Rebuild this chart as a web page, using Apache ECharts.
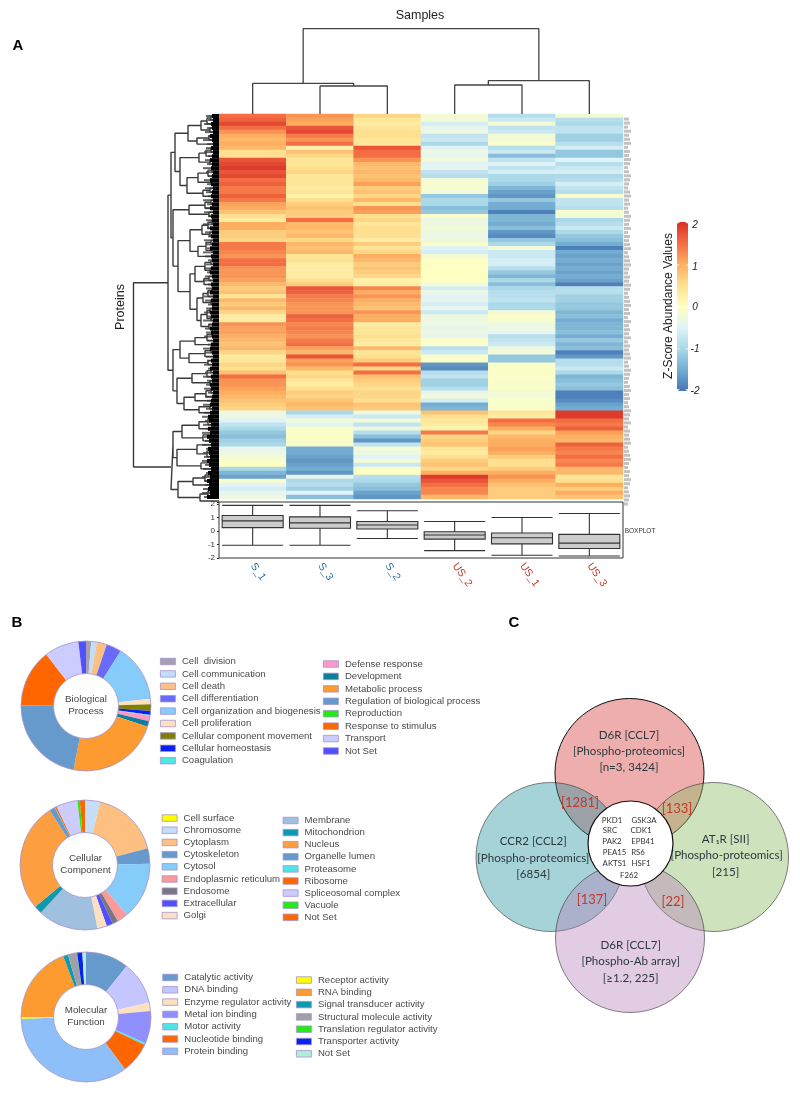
<!DOCTYPE html>
<html><head><meta charset="utf-8">
<style>html,body{margin:0;padding:0;background:#fff}#c{width:800px;height:1093px;filter:blur(0.45px)}</style>
<script src="https://cdn.jsdelivr.net/npm/echarts@6/dist/echarts.min.js"></script>
</head><body><div id="c"></div>
<script>
// ---------- heatmap values, one list per displayed column, top row first ----------
const sampleNames=['S_1','S_3','S_2','US_2','US_1','US_3'];
const s1=[1.5,1.6,1.8,1.5,1.2,1.0,0.9,1.0,0.9,0.5,0.5,1.7,1.8,1.9,1.7,1.8,1.5,1.6,1.4,1.4,1.6,1.4,1.1,1.0,
0.8,0.5,0.3,1.0,1.0,0.7,0.7,0.6,1.4,1.4,1.3,1.2,1.5,1.5,1.2,1.2,1.2,1.1,0.9,0.7,0.8,0.4,0.9,0.7,
0.9,0.6,0.3,0.3,1.2,1.1,1.1,1.0,0.9,0.8,0.9,0.6,0.3,0.4,0.6,0.5,0.8,1.5,1.2,1.2,1.1,1.0,0.9,0.8,
0.7,0.6,-0.3,-0.3,-0.5,-0.8,-1.0,-1.2,-1.3,-1.1,-1.0,-0.4,-0.3,-0.2,-0.1,0,-1.0,-1.4,-1.6,-0.1,-0.5,-0.6,-0.4,-0.3];
const s3=[1.2,1.1,1.0,1.7,1.8,1.4,1.2,1.5,0.2,0.8,0.6,0.4,0.4,0.5,0.6,0.4,0.4,0.4,0.3,0.4,0.2,0.5,0.7,0.8,
0.7,0.7,1.5,0.9,0.9,0.8,0.9,0.6,0.9,0.8,0.9,0.4,0.5,0.3,0.3,0.3,0.3,0.5,0.7,1.7,1.6,1.4,1.3,1.2,
1.2,1.2,1.6,1.5,1.3,1.4,1.3,1.2,1.4,1.5,1.1,0.9,1.7,1.1,1.2,0.9,0.5,0.6,0.4,0.3,0.5,0.7,0.6,0.8,
0.9,0.8,-1.0,-0.6,-0.2,-0.5,-0.1,-0.1,-0.05,-0.1,-0.1,-1.5,-1.5,-1.6,-1.7,-1.6,-1.5,-1.7,-0.4,-1.0,-0.9,-1.1,-0.5,-1.3];
const s2=[0.6,0.4,0.3,0.4,0.5,0.5,0.4,0.4,1.7,1.5,1.5,1.2,0.9,0.8,0.9,0.8,0.9,1.1,0.7,0.8,0.6,0.9,0.5,1.2,
1.1,0.5,0.6,0.4,0.5,0.5,0.5,0.3,0.7,0.4,0.6,1.0,0.9,0.7,0.8,0.7,0.6,0.2,0.3,1.3,1.0,1.2,1.0,0.9,
0.8,1.2,1.0,1.0,0.3,0.4,0.4,0.5,0.4,0.3,0.9,0.4,0.5,0.7,1.5,0.6,1.5,0.8,0.7,0.6,0.5,0.6,0.6,0.5,
0.8,0.7,-0.3,-0.7,-0.2,-0.8,-0.3,-0.9,-1.3,-1.7,-0.8,-0.2,-0.3,-0.5,-0.2,-0.7,-0.1,0,-0.9,-1.0,-1.2,-1.3,-1.6,-1.7];
const us2=[-0.2,-0.2,-0.6,-0.4,-0.3,-0.8,-0.7,-1.0,-0.5,-0.3,-0.4,-0.2,-0.5,-0.4,-0.8,-0.9,-0.2,-0.15,-0.15,-0.2,-1.2,-1.0,-1.0,-1.3,
-1.2,-0.1,-0.3,-0.3,-0.2,-0.3,-0.3,-0.3,-0.1,-0.5,-0.6,-0.2,0,-0.05,0,0,0,0,-0.2,-0.6,-0.3,-0.5,-0.4,-0.6,
-0.4,-0.7,-0.3,-0.3,-0.3,-0.4,-0.3,-0.4,-0.05,-0.1,-0.9,-0.7,-0.1,-0.05,-1.7,-1.8,-0.9,-0.8,-1.1,-1.1,-0.9,-0.4,-0.2,-0.6,
-1.5,-1.4,0.8,0.5,0.4,0.3,0.2,1.4,0.6,0.7,0.8,0.4,0.3,0.5,0.7,0.8,0.6,1.0,1.9,1.7,1.5,1.3,1.3,0.9];
const us1=[-0.9,-0.7,-0.2,-0.8,-0.7,-0.2,-0.2,-0.1,-0.9,-0.7,-1.3,-0.8,-0.5,-0.8,-0.6,-1.0,-1.0,-1.1,-1.4,-1.6,-1.7,-1.2,-1.5,-1.5,
-1.9,-1.4,-1.4,-1.5,-1.3,-1.7,-1.8,-1.2,-1.0,-0.2,-0.7,-0.7,-0.6,-0.6,-0.9,-1.2,-1.4,-1.0,-1.3,-1.0,-0.9,-0.9,-0.8,-1.0,
-1.0,-0.2,-0.1,-0.1,-0.3,-0.3,-0.4,-0.9,-0.8,-0.7,-0.3,-0.2,-1.2,-1.2,-0.1,-0.05,-0.1,-0.05,-0.1,-0.1,-0.1,-0.2,-0.2,-0.1,
-0.1,-0.1,0.4,0.3,1.5,1.3,1.0,0.6,0.9,1.0,1.0,1.1,1.0,0.7,0.5,0.5,0.7,1.0,1.2,1.0,0.8,0.7,0.7,0.7];
const us3=[-0.2,-0.9,-1.0,-0.8,-0.8,-1.1,-1.1,-0.9,-0.6,-1.2,-1.2,-0.5,-0.9,-0.7,-0.6,-1.0,-0.9,-0.6,-0.8,-0.9,-0.1,-0.8,-0.8,-0.9,
-0.1,-0.2,-1.0,-0.9,-0.7,-1.0,-1.2,-1.3,-1.5,-1.9,-1.5,-1.6,-1.5,-1.6,-1.5,-1.6,-1.5,-1.6,-1.9,-0.9,-0.9,-1.1,-1.1,-1.2,
-1.2,-1.4,-1.3,-1.5,-1.4,-1.4,-1.3,-1.5,-1.2,-1.4,-1.3,-1.9,-1.7,-0.9,-0.9,-0.7,-1.0,-1.4,-1.3,-1.2,-1.3,-1.9,-1.9,-1.8,
-1.6,-1.5,1.9,1.9,1.5,1.4,1.6,1.1,1.0,0.9,1.6,1.4,1.3,1.5,1.3,1.4,0.9,0.9,0.4,0.5,1.0,0.7,1.0,0.8];
const heatColumns=[s1,s3,s2,us2,us1,us3];
const heatColors=['#4575b4','#74add1','#abd9e9','#e0f3f8','#ffffbf','#fee090','#fdae61','#f46d43','#d73027'];

// ---------- boxplot: min, Q1, median, Q3, max ----------
const boxS1=[-1.05,0.25,0.75,1.15,1.9];
const boxS3=[-1.05,0.2,0.6,1.05,1.9];
const boxS2=[-0.55,0.15,0.45,0.7,1.5];
const boxUS2=[-1.45,-0.6,-0.3,-0.05,0.7];
const boxUS1=[-1.8,-0.95,-0.5,-0.15,1.0];
const boxUS3=[-1.85,-1.3,-0.9,-0.25,1.3];

// ---------- dendrograms: [height, child, child]; 0 is a leaf, leaves run in display order ----------
const sampleTree=[85.3,[30.7,0,[28,0,0]],[33.3,[29,0,0],0]];
const rowTree=[85.5,
 [51,
  [48,
   [44,[31,[18,[12,[8,0,0],0],[9,0,0]],[22,[10,0,0],0]],
       [39,[20,[13,[8,0,0],0],[9,0,0]],[32,[21,[11,[7,0,0],0],[8,0,0]],[16,[9,0,0],0]]]],
   [46,[30,[14,[8,0,0],0],[10,0,0]],
       [41,[29,[17,[11,[7,0,0],0],[9,0,0]],[21,[13,[8,0,0],[7,0,0]],0]],
           [29,[24,[14,[8,0,0],[9,0,0]],[15,[10,0,0],0]],[22,[16,[11,[7,0,0],0],[8,0,0]],[18,[12,[9,0,0],[8,0,0]],[10,0,0]]]]]]],
  [46,[39,[24,[12,[7,0,0],0],0],[30,[14,[8,0,0],0],[11,0,0]]],
      [42,[27,[12,[8,0,0],0],[9,0,0]],[35,[24,[13,[8,0,0],0],0],[20,[9,0,0],0]]]]],
 [48,[46,[37,[20,[11,[7,0,0],0],0],[16,[8,0,0],0]],[42,[22,0,[12,[7,0,0],0]],[18,[9,0,0],0]]],
     [41,[26,[14,[8,0,0],0],0],[19,[11,[8,0,0],0],0]]]];
const combDepth=[7,6,8,7,6,9,7,6,8,6,7,9,7,8,6,7,9,8,6,7,8,6,7,9,6,8,7,6,9,7,8,6,7,9,6,8,7,6,8,9,7,6,8,7,9,6,8,7,
7,9,8,6,7,9,8,7,6,8,9,7,6,8,7,9,6,8,7,9,8,6,7,8,9,7,9,11,10,8,11,9,12,10,8,11,10,9,12,10,8,11,9,12,10,11,9,12];
const combShade=[13,11,15,12,14,11,16,12,13,15,11,14,12,16,13,11,15,12,14,13,11,16,12,14,15,11,13,16,12,14,11,15,13,12,16,14,11,13,15,12,14,16,11,13,12,15,14,11,
13,15,12,16,11,14,13,15,12,11,16,14,13,12,15,11,14,16,12,13,15,11,14,12,16,13,15,17,14,16,13,17,15,14,17,13,16,15,17,14,16,13,17,15,14,16,17,15];
const rowLabelWidth=[5,6,4,7,5,6,7,4,6,5,7,6,4,5,7,6,5,4,6,7,5,6,4,5,7,6,5,7,4,6,5,6,7,4,5,6,7,5,4,6,5,7,6,4,5,6,7,5,
6,4,7,5,6,5,7,4,6,5,6,7,4,5,7,6,5,4,6,7,5,6,4,5,7,6,5,7,4,6,5,6,7,4,5,6,7,5,4,6,5,7,6,4,5,6,5,4];

// ---------- pie charts ----------
const bpNames=['Cell  division','Cell communication','Cell death','Cell differentiation','Cell organization and biogenesis','Cell proliferation','Cellular component movement','Cellular homeostasis','Coagulation','Defense response','Development','Metabolic process','Regulation of biological process','Reproduction','Response to stimulus','Transport','Not Set'];
const bpValues=[1.3,1.4,2.5,3.8,14.3,1.4,1.6,1,0.2,1.4,1.4,23,22,0.1,14.5,8.6,1.9];
const bpColors=['#a6a0ae','#c5def8','#fcc084','#6a6af8','#86ccfb','#fde0c0','#808000','#0a22f0','#50e5e5','#fc99c8','#0e7f99','#fd9a30','#6699cc','#1fee10','#ff6600','#ccccff','#5050ff'];
const ccNames=['Cell surface','Chromosome','Cytoplasm','Cytoskeleton','Cytosol','Endoplasmic reticulum','Endosome','Extracellular','Golgi','Membrane','Mitochondrion','Nucleus','Organelle lumen','Proteasome','Ribosome','Spliceosomal complex','Vacuole','Not Set'];
const ccValues=[0.1,3.7,17.2,3.9,14.3,2.7,1.4,1.6,2.4,15.1,2,27.2,1.4,0.1,0.4,5.4,0.6,1.3];
const ccColors=['#ffff00','#c5def8','#fdc080','#6699cc','#86ccfb','#fc9a9a','#787880','#5050ff','#fde0c0','#a0c0e0','#0f99b0','#fd9f40','#6699cc','#50e5e5','#ff6600','#ccccff','#1fee10','#ff6600'];
const mfNames=['Catalytic activity','DNA binding','Enzyme regulator activity','Metal ion binding','Motor activity','Nucleotide binding','Protein binding','Receptor activity','RNA binding','Signal transducer activity','Structural molecule activity','Translation regulator activity','Transporter activity','Not Set'];
const mfValues=[10.7,10.7,2.1,8.1,0.5,7.7,34.8,0.4,19.3,1.2,2.2,0.1,1.3,0.9];
const mfColors=['#6699cc','#c5c5ff','#fde0c0','#8f8fff','#50e5e5','#ff6600','#8fbff8','#ffff00','#fd9a30','#0f99b0','#a0a0a8','#1fee10','#0a22f0','#b0eed8'];

// ---------- Venn texts ----------
const vennTexts=['D6R [CCL7]','[Phospho-proteomics]','[n=3, 3424]','CCR2 [CCL2]','[Phospho-proteomics]','[6854]','AT\u2081R [SII]','[Phospho-proteomics]','[215]','D6R [CCL7]','[Phospho-Ab array]','[\u22651.2, 225]'];
const overlapTexts=['[1281]','[133]','[137]','[22]'];
const geneTexts=['PKD1','GSK3A','SRC','CDK1','PAK2','EPB41','PEA15','RS6','AKTS1','HSF1','F262'];

// ---------- layout ----------
const SANS='"Liberation Sans",Arial,sans-serif', VENNF='Lato,"Noto Sans",sans-serif';
const vennTextPos=[[629,735],[629,751.5],[629,767.7],[533.3,841.7],[533.3,858.3],[533.3,874.3],[725.7,839.3],[726.7,855.7],[725.7,872],[630.7,945],[630.7,961.3],[630.7,978]];
const overlapPos=[[580,803],[677,809],[592,900],[673,902]];
const genePos=[[612,820],[644,820],[610,830.5],[641,830.5],[612,841.5],[643,841.5],[614.5,852.5],[638,852.5],[614.5,863.5],[641,863.5],[629,875.5]];
const colorbarTicks=[[678.2,222.7],[687,222.7],[678.2,265],[687,265],[678.2,306.5],[687,306.5],[678.2,349],[687,349],[678.2,389.5],[687,389.5]];
const rows=96, heatW=404;

function link(tree,out,counter,up){ // walks a merge tree through the grid's own scales
  if(tree===0){return [counter.n++ +0.5,0];}
  const a=link(tree[1],out,counter,up), b=link(tree[2],out,counter,up), h=tree[0];
  const pt=up?(p,v)=>[p,v]:(p,v)=>[v,p];
  out.push(pt(a[0],a[1]),pt(a[0],h),pt(b[0],h),pt(b[0],b[1]),[NaN,NaN]);
  return [(a[0]+b[0])/2,h];
}
const sampleLinks=[],rowLinks=[];
link(sampleTree,sampleLinks,{n:0},true);
link(rowTree,rowLinks,{n:0},false);

const rowCats=s1.map((_,i)=>String(i));
const heatData=[];
heatColumns.forEach((col,x)=>col.forEach((v,y)=>heatData.push([x,y,v])));

function pieSeries(center,names,values,colors){
  return {type:'pie',silent:true,center:center,radius:[32.5,65],startAngle:90,clockwise:true,padAngle:0,label:{show:false},labelLine:{show:false},
    itemStyle:{borderWidth:0,borderRadius:0},
    data:names.map((n,i)=>({name:n,value:values[i],itemStyle:{color:colors[i],borderWidth:0}}))};
}
function legendCol(left,top,names,colors,from,to,gap){
  return {show:true,orient:'vertical',left:left,top:top,padding:0,itemWidth:15,itemHeight:6.5,itemGap:gap,selectedMode:false,icon:'rect',
    textStyle:{fontFamily:SANS,fontSize:9.6,color:'#4a4a4a',lineHeight:12,padding:[0,0,0,1.5]},
    data:names.slice(from,to).map((n,i)=>({name:n,icon:'rect',itemStyle:{color:colors[from+i],borderColor:'#a594cc',borderWidth:0.8}}))};
}
function txt(s,x,y,o){
  o=o||{};
  return {type:'text',z:100,x:x,y:y,rotation:o.rot||0,silent:true,style:{text:s,x:0,y:0,align:o.align||'center',verticalAlign:'middle',
    fontFamily:o.font||SANS,fontSize:o.size||10,fontWeight:o.weight||'normal',fontStyle:o.style||'normal',fill:o.color||'#222',lineHeight:o.lh}};
}
const graphicTexts=[
  txt('A',18,46,{size:15,weight:'bold',color:'#000'}),txt('B',17,623,{size:15,weight:'bold',color:'#000'}),txt('C',514,623,{size:15,weight:'bold',color:'#000'}),
  txt('Samples',420,16,{size:12.5}),txt('Proteins',121,307,{size:12.5,rot:Math.PI/2}),
  txt('Z-Score Abundance Values',669,306,{size:12,rot:Math.PI/2}),
  txt('BOXPLOT',640,531,{size:6.5,color:'#333'}),
  txt('Biological\nProcess',86,705,{size:9.8,color:'#444',lh:12}),txt('Cellular\nComponent',85.5,864,{size:9.8,color:'#444',lh:12}),txt('Molecular\nFunction',86,1016,{size:9.8,color:'#444',lh:12})
];
[['2',225],['1',267],['0',307],['-1',349],['-2',391]].forEach(t=>graphicTexts.push(txt(t[0],695,t[1],{size:10,style:'italic',color:'#222'})));
vennTexts.forEach((s,i)=>graphicTexts.push(txt(s,vennTextPos[i][0],vennTextPos[i][1],{font:VENNF,size:11.6,color:'#2c3a3f'})));
overlapTexts.forEach((s,i)=>graphicTexts.push(txt(s,overlapPos[i][0],overlapPos[i][1],{font:VENNF,size:13,color:'#c0392b'})));
geneTexts.forEach((s,i)=>graphicTexts.push(txt(s,genePos[i][0],genePos[i][1],{font:VENNF,size:7.8,color:'#333'})));

const hiddenX=(g,o)=>Object.assign({gridIndex:g,show:false},o);
const chart=echarts.init(document.getElementById('c'),null,{renderer:'canvas'});
chart.setOption({
  animation:false,backgroundColor:'#fff',
  grid:[
    {left:219,top:114,width:heatW,height:385},        // heatmap
    {left:219,top:502,width:heatW,height:56,show:true,borderColor:'#333',borderWidth:1,backgroundColor:'#fff'}, // boxplot
    {left:219,top:20,width:heatW,height:94},          // sample tree
    {left:133,top:114,width:86,height:385},           // row tree
    {left:200,top:114,width:19,height:385},           // leaf comb
    {left:624,top:117,width:7,height:389},            // row-label strip
    {left:0,top:0,width:800,height:1093},             // venn & rings
    {left:200,top:114,width:19,height:385}            // leaf comb shade
  ],
  xAxis:[
    hiddenX(0,{type:'category',data:sampleNames}),
    {gridIndex:1,type:'category',data:sampleNames.map(n=>({value:n,textStyle:{color:n[0]==='U'?'#c0392b':'#2a6ea6'}})),
      axisLine:{show:false},axisTick:{show:false},axisLabel:{rotate:-55,fontFamily:SANS,fontSize:10.5,margin:6,interval:0}},
    hiddenX(2,{type:'value',min:0,max:6}),
    hiddenX(3,{type:'value',min:0,max:86,inverse:true}),
    hiddenX(4,{type:'value',min:0,max:19,inverse:true}),
    hiddenX(5,{type:'value',min:0,max:7}),
    hiddenX(6,{type:'value',min:0,max:800}),
    hiddenX(7,{type:'value',min:0,max:19,inverse:true})
  ],
  yAxis:[
    hiddenX(0,{type:'category',data:rowCats,inverse:true}),
    {gridIndex:1,type:'value',min:-2,max:2.15,interval:1,splitLine:{show:false},axisLine:{show:false},axisTick:{show:true,length:2,lineStyle:{color:'#333'}},
      axisLabel:{fontFamily:SANS,fontSize:8,color:'#333',margin:4,customValues:[-2,-1,0,1,2]}},
    hiddenX(2,{type:'value',min:0,max:94}),
    hiddenX(3,{type:'value',min:0,max:rows,inverse:true}),
    hiddenX(4,{type:'category',data:rowCats,inverse:true}),
    hiddenX(5,{type:'category',data:rowCats,inverse:true}),
    hiddenX(6,{type:'value',min:0,max:1093,inverse:true}),
    hiddenX(7,{type:'category',data:rowCats,inverse:true})
  ],
  visualMap:{type:'continuous',seriesIndex:0,min:-2,max:2,left:677,top:222,itemWidth:11,itemHeight:169,padding:0,text:null,calculable:false,show:true,
    showLabel:false,inRange:{color:heatColors}},
  legend:[
    legendCol(160,655.5,bpNames,bpColors,0,9,0.4),legendCol(323,658,bpNames,bpColors,9,17,0.43),
    legendCol(161.7,812,ccNames,ccColors,0,9,0.2),legendCol(282.7,814.5,ccNames,ccColors,9,18,0.1),
    legendCol(162.3,971.5,mfNames,mfColors,0,7,0.3),legendCol(296,974,mfNames,mfColors,7,14,0.3)
  ],
  series:[
    {type:'heatmap',xAxisIndex:0,yAxisIndex:0,data:heatData,silent:true,itemStyle:{borderWidth:0},progressive:0},
    {type:'boxplot',xAxisIndex:1,yAxisIndex:1,silent:true,boxWidth:[61,61],itemStyle:{color:'#cccccc',borderColor:'#333',borderWidth:1.1},
      data:[boxS1,boxS3,boxS2,boxUS2,boxUS1,boxUS3]},
    {type:'line',xAxisIndex:2,yAxisIndex:2,data:sampleLinks,symbol:'none',silent:true,lineStyle:{color:'#444',width:1.3},clip:false},
    {type:'bar',xAxisIndex:7,yAxisIndex:7,data:combShade,barWidth:2,silent:true,itemStyle:{color:'#666'},z:1},
    {type:'line',xAxisIndex:3,yAxisIndex:3,data:rowLinks,symbol:'none',silent:true,lineStyle:{color:'#3a3a3a',width:1.4},clip:false,z:2},
    {type:'bar',xAxisIndex:4,yAxisIndex:4,data:combDepth,barWidth:'100%',silent:true,itemStyle:{color:'#000'},z:3},
    {type:'bar',xAxisIndex:5,yAxisIndex:5,data:rowLabelWidth,barWidth:3,silent:true,itemStyle:{color:'#c2c2c2'}},
    // venn circles
    {type:'scatter',xAxisIndex:6,yAxisIndex:6,silent:true,symbolSize:149,data:[[629.5,773]],itemStyle:{color:'rgba(220,75,75,0.45)',borderColor:'#111',borderWidth:1,opacity:1},z:3},
    {type:'scatter',xAxisIndex:6,yAxisIndex:6,silent:true,symbolSize:149,data:[[550.5,857]],itemStyle:{color:'rgba(32,145,157,0.4)',borderColor:'rgba(50,50,50,0.6)',borderWidth:1,opacity:1},z:4},
    {type:'scatter',xAxisIndex:6,yAxisIndex:6,silent:true,symbolSize:149,data:[[714,857]],itemStyle:{color:'rgba(135,185,97,0.42)',borderColor:'rgba(50,50,50,0.6)',borderWidth:1,opacity:1},z:5},
    {type:'scatter',xAxisIndex:6,yAxisIndex:6,silent:true,symbolSize:149,data:[[630,938]],itemStyle:{color:'rgba(182,128,185,0.4)',borderColor:'rgba(50,50,50,0.6)',borderWidth:1,opacity:1},z:6},
    {type:'scatter',xAxisIndex:6,yAxisIndex:6,silent:true,symbolSize:85,data:[[630.5,843.5]],itemStyle:{color:'#fff',borderColor:'#111',borderWidth:1.2,opacity:1},z:7},
    // colour-bar ticks
    {type:'scatter',xAxisIndex:6,yAxisIndex:6,silent:true,symbol:'rect',symbolSize:[2.5,1],data:colorbarTicks,itemStyle:{color:'#fff',opacity:0.8},z:9},
    // pies
    pieSeries([86,706],bpNames,bpValues,bpColors),
    pieSeries([85,865],ccNames,ccValues,ccColors),
    pieSeries([86,1017],mfNames,mfValues,mfColors),
    // pie outlines
    {type:'scatter',xAxisIndex:6,yAxisIndex:6,silent:true,symbolSize:130,data:[[86,706],[85,865],[86,1017]],itemStyle:{color:'rgba(0,0,0,0)',borderColor:'#a594cc',borderWidth:0.8,opacity:1},z:8},
    {type:'scatter',xAxisIndex:6,yAxisIndex:6,silent:true,symbolSize:65,data:[[86,706],[85,865],[86,1017]],itemStyle:{color:'rgba(0,0,0,0)',borderColor:'#a594cc',borderWidth:0.8,opacity:1},z:8}
  ],
  graphic:graphicTexts
});
</script></body></html>
